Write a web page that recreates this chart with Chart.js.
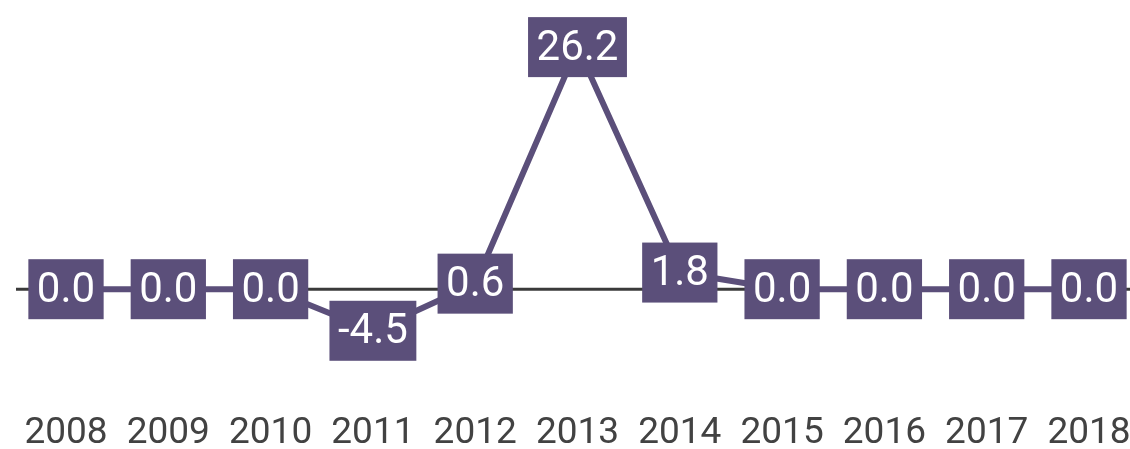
<!DOCTYPE html>
<html>
<head>
<meta charset="utf-8">
<script src="https://cdn.jsdelivr.net/npm/chart.js@4"></script>
<style>
  html, body { margin: 0; padding: 0; background: #fff; overflow: hidden; }
</style>
</head>
<body>
<canvas id="lineChart" width="1130" height="449"></canvas>
<script>
const years = ['2008', '2009', '2010', '2011', '2012', '2013', '2014', '2015', '2016', '2017', '2018'];
const values = [0.0, 0.0, 0.0, -4.5, 0.6, 26.2, 1.8, 0.0, 0.0, 0.0, 0.0];

const purple = '#5b4f7a';

// zero baseline, runs wider than the plot area
const zeroLine = {
  id: 'zeroLine',
  beforeDatasetsDraw(chart) {
    const ctx = chart.ctx;
    const y = chart.scales.y.getPixelForValue(0);
    ctx.save();
    ctx.strokeStyle = '#3a3a3a';
    ctx.lineWidth = 3;
    ctx.beginPath();
    ctx.moveTo(16, y);
    ctx.lineTo(chart.width, y);
    ctx.stroke();
    ctx.restore();
  },
};

// boxed value labels drawn on top of each point
const boxLabels = {
  id: 'boxLabels',
  afterDatasetsDraw(chart) {
    const ctx = chart.ctx;
    const meta = chart.getDatasetMeta(0);
    ctx.save();
    ctx.font = '42px Roboto';
    ctx.textAlign = 'center';
    ctx.textBaseline = 'middle';
    meta.data.forEach((pt, i) => {
      const text = values[i].toFixed(1);
      const w = ctx.measureText(text).width + 17;
      const h = 60;
      ctx.fillStyle = purple;
      ctx.fillRect(pt.x - w / 2, pt.y - h / 2, w, h);
      ctx.fillStyle = '#ffffff';
      ctx.fillText(text, pt.x, pt.y + 2);
    });
    ctx.restore();
  },
};

const ctx = document.getElementById('lineChart');

window.lineChart = new Chart(ctx, {
  type: 'line',
  data: {
    labels: years,
    datasets: [
      {
        data: values,
        borderColor: purple,
        borderWidth: 6,
        pointRadius: 0,
        tension: 0,
        fill: false,
        clip: false,
      },
    ],
  },
  options: {
    responsive: false,
    animation: false,
    layout: { padding: { left: 66, top: 12, right: 41, bottom: -29 } },
    plugins: {
      legend: { display: false },
      tooltip: { enabled: false },
    },
    scales: {
      x: {
        offset: false,
        grid: { display: false },
        border: { display: false },
        ticks: {
          color: '#424242',
          font: { family: 'Roboto', size: 37 },
          padding: 22,
          maxRotation: 0,
          autoSkip: false,
        },
        // let the layout padding alone decide the plot edges
        afterFit(scale) {
          scale.paddingLeft = 0;
          scale.paddingRight = 0;
        },
      },
      y: {
        display: false,
        min: -10,
        max: 30,
      },
    },
  },
  plugins: [zeroLine, boxLabels],
});
</script>
</body>
</html>
